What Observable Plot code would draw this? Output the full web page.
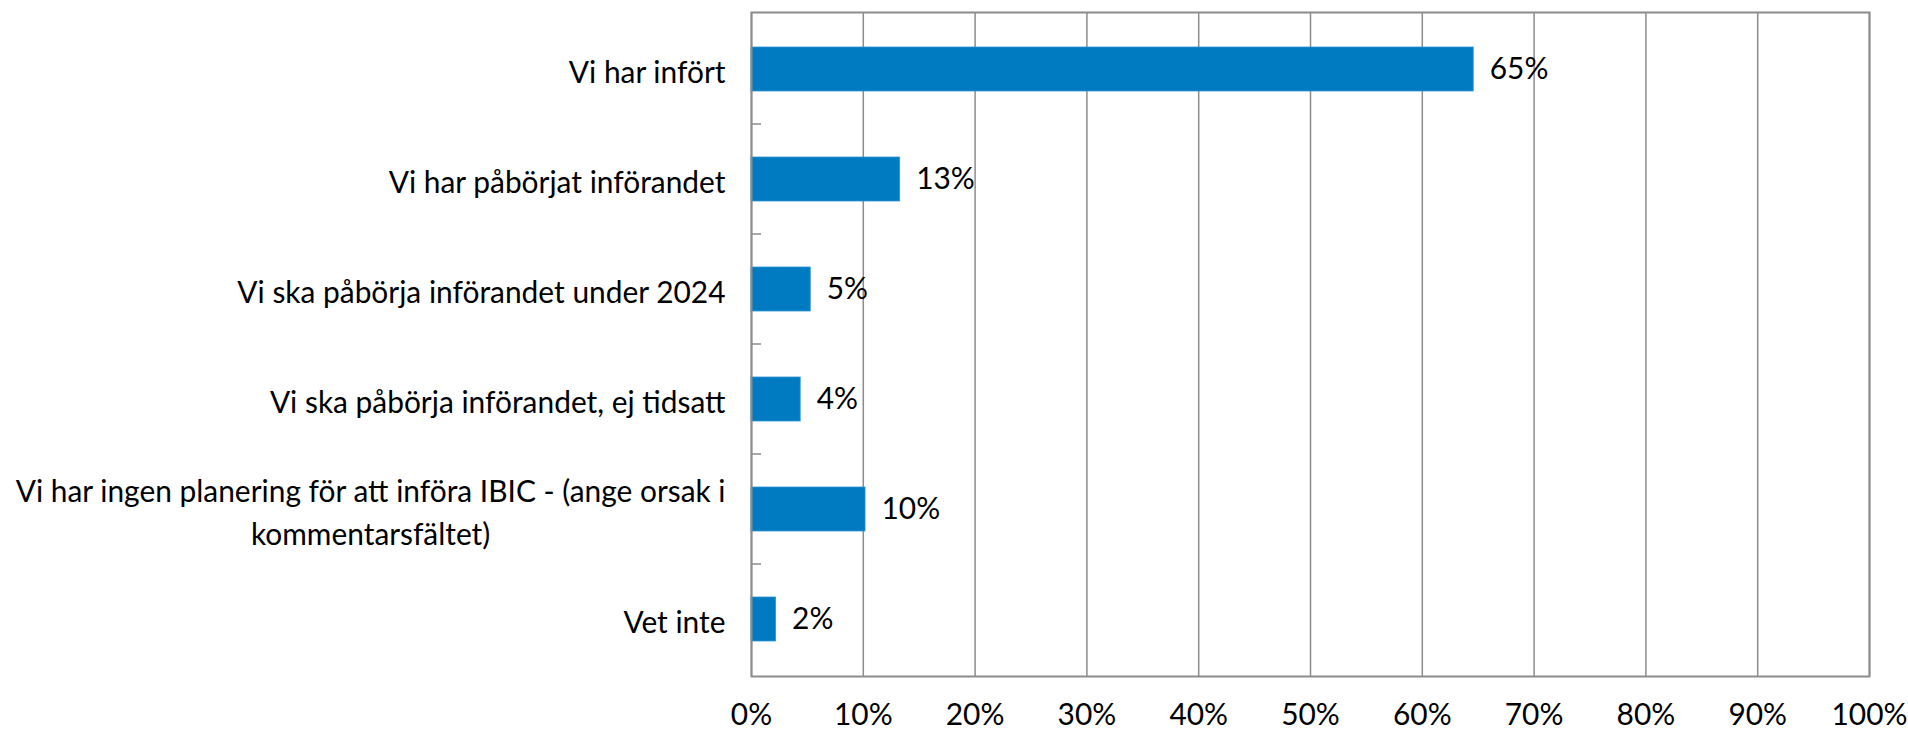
<!DOCTYPE html>
<html>
<head>
<meta charset="utf-8">
<script src="https://cdn.jsdelivr.net/npm/d3@7"></script>
<script src="https://cdn.jsdelivr.net/npm/@observablehq/plot@0.6"></script>
<style>
  html, body { margin: 0; padding: 0; background: #fff; }
  #chart svg { display: block; }
</style>
</head>
<body>
<div id="chart"></div>
<script>
const categories = [
  "Vi har infört",
  "Vi har påbörjat införandet",
  "Vi ska påbörja införandet under 2024",
  "Vi ska påbörja införandet, ej tidsatt",
  "Vi har ingen planering för att införa IBIC - (ange orsak i\nkommentarsfältet)",
  "Vet inte"
];
const values = [64.6, 13.3, 5.3, 4.4, 10.2, 2.2];
const valueLabels = ["65%", "13%", "5%", "4%", "10%", "2%"];
const xTicks = [0, 10, 20, 30, 40, 50, 60, 70, 80, 90, 100];
const xTickLabels = ["0%", "10%", "20%", "30%", "40%", "50%", "60%", "70%", "80%", "90%", "100%"];

const rows = categories.map((c, i) => ({cat: c, value: values[i], label: valueLabels[i]}));

const FONT = "Lato";
// size the font so the longest label matches the reference width
const ctx = document.createElement("canvas").getContext("2d");
ctx.font = `100px ${FONT}`;
const w100 = ctx.measureText("Vi har ingen planering för att införa IBIC - (ange orsak i").width;
const fs = Math.round(100 * 711 / w100 * 10) / 10;

const gridColor = "#8c8c8c";

const bandTicks = (index, scales, values, dims) => {
  const y = scales.y;
  const inner = dims.height - dims.marginTop - dims.marginBottom;
  const step = y.step ? y.step() : inner / categories.length;
  const bw = y.bandwidth ? y.bandwidth() : step * 0.4;
  const g = d3.create("svg:g");
  categories.slice(0, -1).forEach(c => {
    const yy = y(c) + (step + bw) / 2;
    g.append("line")
      .attr("x1", dims.marginLeft).attr("x2", dims.marginLeft + 10)
      .attr("y1", yy).attr("y2", yy)
      .attr("stroke", gridColor).attr("stroke-width", 1.5);
  });
  return g.node();
};

const chart = Plot.plot({
  width: 1908,
  height: 731,
  marginLeft: 751,
  marginRight: 39,
  marginTop: 12,
  marginBottom: 55,
  style: {fontFamily: FONT, fontSize: fs + "px", color: "#000", background: "#fff"},
  x: {domain: [0, 100]},
  y: {domain: categories, paddingInner: 0.6, paddingOuter: 0.3},
  marks: [
    Plot.ruleX(xTicks, {stroke: gridColor, strokeWidth: 1.5}),
    Plot.barX(rows, {x: "value", y: "cat", fill: "#007bc1", stroke: "#2e95d3", strokeWidth: 0.8}),
    Plot.frame({stroke: gridColor, strokeWidth: 2}),
    bandTicks,
    Plot.text(rows, {x: "value", y: "cat", text: "label", dx: 16, textAnchor: "start", fill: "#000", fontSize: fs}),
    Plot.axisX({ticks: xTicks, tickFormat: d => xTickLabels[xTicks.indexOf(d)], tickSize: 0, tickPadding: 27, label: null, fontSize: fs, fill: "#000"}),
    Plot.axisY({tickSize: 0, tickPadding: 26, label: null, fontSize: fs, lineHeight: 1.43, fill: "#000"})
  ]
});

document.getElementById("chart").appendChild(chart);

// center multi-line category labels within their block (right-aligned block)
chart.querySelectorAll('[aria-label="y-axis tick label"] text').forEach(t => {
  const spans = t.querySelectorAll("tspan");
  if (spans.length > 1) {
    const w = t.getBBox().width;
    t.setAttribute("text-anchor", "middle");
    spans.forEach(s => s.setAttribute("text-anchor", "middle"));
    const tr = t.getAttribute("transform") || "";
    t.setAttribute("transform", tr + ` translate(${-w / 2},0)`);
  }
});
</script>
</body>
</html>
